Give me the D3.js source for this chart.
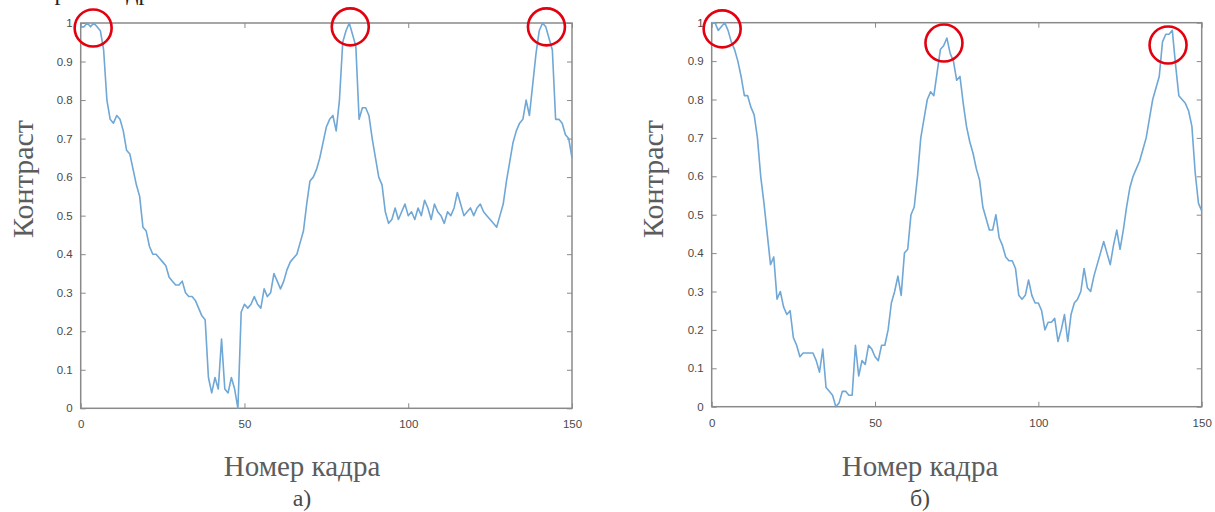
<!DOCTYPE html>
<html>
<head>
<meta charset="utf-8">
<script src="https://cdn.jsdelivr.net/npm/d3@7"></script>
<style>
  html, body { margin: 0; padding: 0; background: #fff; }
  svg { display: block; }
</style>
</head>
<body>
<svg id="chart" width="1215" height="512"></svg>
<script>
/** Frame numbers and tick labels **/
var frameCount = 150;
var xTicks = [0, 50, 100, 150];
var yTicks = [0, 0.1, 0.2, 0.3, 0.4, 0.5, 0.6, 0.7, 0.8, 0.9, 1];

/** Contrast per frame, panel a) **/
var contrastA = [
  0.99, 0.99, 1.00, 0.99, 1.00, 0.99, 0.98, 0.93, 0.80, 0.75,
  0.74, 0.76, 0.75, 0.72, 0.67, 0.66, 0.62, 0.58, 0.55, 0.47,
  0.46, 0.42, 0.40, 0.40, 0.39, 0.38, 0.37, 0.34, 0.33, 0.32,
  0.32, 0.33, 0.30, 0.29, 0.29, 0.28, 0.26, 0.24, 0.23, 0.08,
  0.04, 0.08, 0.05, 0.18, 0.05, 0.04, 0.08, 0.05, 0.00, 0.25,
  0.27, 0.26, 0.27, 0.29, 0.27, 0.26, 0.31, 0.29, 0.30, 0.35,
  0.33, 0.31, 0.33, 0.36, 0.38, 0.39, 0.40, 0.43, 0.46, 0.53,
  0.59, 0.60, 0.62, 0.65, 0.69, 0.73, 0.75, 0.76, 0.72, 0.80,
  0.95, 0.98, 1.00, 0.97, 0.94, 0.75, 0.78, 0.78, 0.76, 0.70,
  0.65, 0.60, 0.58, 0.51, 0.48, 0.49, 0.52, 0.49, 0.51, 0.53,
  0.50, 0.51, 0.49, 0.52, 0.50, 0.54, 0.52, 0.49, 0.53, 0.51,
  0.50, 0.48, 0.51, 0.50, 0.52, 0.56, 0.53, 0.50, 0.51, 0.52,
  0.50, 0.52, 0.53, 0.51, 0.50, 0.49, 0.48, 0.47, 0.50, 0.53,
  0.59, 0.64, 0.69, 0.72, 0.74, 0.75, 0.80, 0.76, 0.84, 0.92,
  0.98, 1.00, 0.99, 0.96, 0.93, 0.75, 0.75, 0.74, 0.71, 0.70,
  0.65
];

/** Contrast per frame, panel б) **/
var contrastB = [
  1.00, 1.00, 0.98, 0.99, 1.00, 0.98, 0.95, 0.93, 0.90, 0.86,
  0.81, 0.81, 0.78, 0.76, 0.70, 0.60, 0.53, 0.45, 0.37, 0.39,
  0.28, 0.30, 0.26, 0.24, 0.25, 0.18, 0.16, 0.13, 0.14, 0.14,
  0.14, 0.14, 0.12, 0.09, 0.15, 0.05, 0.04, 0.03, 0.00, 0.01,
  0.04, 0.04, 0.03, 0.03, 0.16, 0.08, 0.12, 0.11, 0.16, 0.15,
  0.13, 0.12, 0.16, 0.16, 0.20, 0.27, 0.30, 0.34, 0.29, 0.40,
  0.41, 0.50, 0.52, 0.60, 0.70, 0.75, 0.80, 0.82, 0.81, 0.87,
  0.93, 0.94, 0.96, 0.92, 0.90, 0.85, 0.86, 0.79, 0.73, 0.69,
  0.66, 0.62, 0.59, 0.52, 0.49, 0.46, 0.46, 0.50, 0.44, 0.42,
  0.39, 0.38, 0.38, 0.36, 0.29, 0.28, 0.29, 0.33, 0.29, 0.27,
  0.27, 0.25, 0.20, 0.22, 0.22, 0.23, 0.17, 0.20, 0.24, 0.17,
  0.24, 0.27, 0.28, 0.30, 0.36, 0.31, 0.30, 0.34, 0.37, 0.40,
  0.43, 0.40, 0.37, 0.42, 0.46, 0.41, 0.46, 0.52, 0.57, 0.60,
  0.62, 0.64, 0.67, 0.70, 0.75, 0.80, 0.83, 0.86, 0.95, 0.97,
  0.97, 0.98, 0.89, 0.81, 0.80, 0.79, 0.77, 0.73, 0.61, 0.53,
  0.51
];

/** Red circles marking the peaks: [frame, contrast] **/
var peaksA = [[3.8, 0.987], [82.3, 0.99], [142.2, 0.99]];
var peaksB = [[3.2, 0.984], [71.1, 0.947], [139.7, 0.942]];

var svg = d3.select("#chart");
svg.append("rect").attr("width", 1215).attr("height", 512).attr("fill", "#fff");

/** caption line from the page above, only its lower edge is in view **/
svg.append("text")
    .attr("x", 4).attr("y", -0.5)
    .text("Контраст кадра")
    .style("font-family", "'Liberation Serif', 'Times New Roman', serif")
    .style("font-size", "24px")
    .style("fill", "#222");

var panels = [
    {values: contrastA, peaks: peaksA, left: 80.7, right: 572, top: 23, bottom: 408.3,
     xLabelX: 302, yLabelX: 33, letter: "а)"},
    {values: contrastB, peaks: peaksB, left: 711.7, right: 1201.7, top: 22.7, bottom: 406.7,
     xLabelX: 920, yLabelX: 663, letter: "б)"}
];

panels.forEach(function (p) {
    var x = d3.scaleLinear().domain([0, frameCount]).range([p.left, p.right]);
    var y = d3.scaleLinear().domain([0, 1]).range([p.bottom, p.top]);
    var g = svg.append("g");

    /** ticks on all four sides, pointing inwards **/
    var axes = [
        {ax: d3.axisBottom(x).tickValues(xTicks).tickFormat(d3.format("d")), t: "translate(0," + p.bottom + ")", pad: 12},
        {ax: d3.axisTop(x).tickValues(xTicks).tickFormat(""), t: "translate(0," + p.top + ")", pad: 0},
        {ax: d3.axisLeft(y).tickValues(yTicks).tickFormat(d3.format("~g")), t: "translate(" + p.left + ",0)", pad: 8},
        {ax: d3.axisRight(y).tickValues(yTicks).tickFormat(""), t: "translate(" + p.right + ",0)", pad: 0}
    ];
    axes.forEach(function (a) {
        var ag = g.append("g")
            .attr("transform", a.t)
            .call(a.ax.tickSizeInner(-5).tickSizeOuter(0).tickPadding(a.pad));
        ag.select(".domain").remove();
        ag.selectAll(".tick line").attr("stroke", "#8a8a8a").attr("stroke-width", 1);
        ag.selectAll(".tick text")
            .style("font-family", "'Liberation Sans', Arial, sans-serif")
            .style("font-size", "11.5px")
            .style("fill", "#4a4a4a");
    });

    /** box **/
    g.append("rect")
        .attr("x", p.left).attr("y", p.top)
        .attr("width", p.right - p.left).attr("height", p.bottom - p.top)
        .attr("fill", "none")
        .attr("stroke", "#8a8a8a")
        .attr("stroke-width", 1.5);

    /** contrast curve **/
    var line = d3.line()
        .x(function (d, i) { return x(i); })
        .y(function (d) { return y(d); });
    g.append("path")
        .datum(p.values)
        .attr("d", line)
        .attr("fill", "none")
        .attr("stroke", "#6fa7d6")
        .attr("stroke-width", 1.6)
        .attr("stroke-linejoin", "round");

    /** peak markers **/
    g.selectAll(".peak")
        .data(p.peaks)
        .enter().append("circle")
        .attr("class", "peak")
        .attr("cx", function (d) { return x(d[0]); })
        .attr("cy", function (d) { return y(d[1]); })
        .attr("r", 18.5)
        .attr("fill", "none")
        .attr("stroke", "#e3000f")
        .attr("stroke-width", 2.6);

    /** axis titles **/
    var serif = "'Liberation Serif', 'Times New Roman', serif";
    g.append("text")
        .attr("x", p.xLabelX).attr("y", 476)
        .attr("text-anchor", "middle")
        .text("Номер кадра")
        .style("font-family", serif).style("font-size", "29px").style("fill", "#5c5c5c");
    g.append("text")
        .attr("transform", "translate(" + p.yLabelX + ",179) rotate(-90)")
        .attr("text-anchor", "middle")
        .text("Контраст")
        .style("font-family", serif).style("font-size", "30px").style("fill", "#5c5c5c");
    g.append("text")
        .attr("x", p.xLabelX).attr("y", 506)
        .attr("text-anchor", "middle")
        .text(p.letter)
        .style("font-family", serif).style("font-size", "24px").style("fill", "#4a4a4a");
});
</script>
</body>
</html>
